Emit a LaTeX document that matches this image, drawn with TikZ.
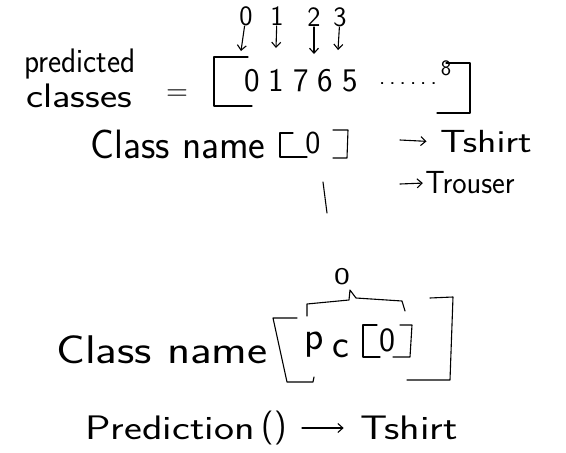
\documentclass[tikz,border=0pt]{standalone}
\usetikzlibrary{arrows.meta}
\begin{document}
\begin{tikzpicture}[x=1pt,y=-1pt, line width=1.1pt, line cap=round, line join=round,
  hw/.style={font=\sffamily\fontsize{#1}{#1}\selectfont, inner sep=0pt, anchor=center},
  arr/.style={-{Straight Barb[length=5pt,width=9pt]}}]
\useasboundingbox (0,0) rectangle (566,453);

% ---- top: indices pointing into the array
\node[hw=28] (i0) at (246,16) {0};
\node[hw=28] (i1) at (277,16) {1};
\node[hw=28] (i2) at (314,17) {2};
\node[hw=28] (i3) at (340,17) {3};
\coordinate (t0) at (241,51);
\coordinate (t1) at (276,48);
\coordinate (t2) at (314,54);
\coordinate (t3) at (338,50);
\draw[arr] (i0) -- (t0);
\draw[arr] (i1) -- (t1);
\draw[arr] (i2) -- (t2);
\draw[arr] (i3) -- (t3);

\node[hw=34, xscale=0.92] (pred) at (80,64) {predicted};
\node[hw=34, xscale=1.2] (cls) at (79,96) {classes};
\node[hw=30] (eq) at (177,95) {=};

\draw (248,57) -- (214,57) -- (214,106) -- (252,106);
\draw (446,63) -- (470,63) -- (470,113) -- (437,113);
\node[hw=33] (vals) at (301,81) {0\hspace{9pt}1\hspace{9pt}7\hspace{9pt}6\hspace{9pt}5};
\node[hw=24] (dots) at (408,84) {.\hspace{4pt}.\hspace{4pt}.\hspace{4pt}.\hspace{4pt}.\hspace{4pt}.};
\node[hw=22] (eight) at (446,68) {8};

% ---- middle
\node[hw=41, xscale=0.97] (cn1) at (178,144) {Class name};
\draw (293,133) -- (280,133) -- (280,157) -- (307,157);
\draw (333,130) -- (348,130) -- (347,158) -- (333,158);
\node[hw=32] (z1) at (313,143) {0};
\coordinate (s1) at (400,140);
\node[hw=32, xscale=1.25] (ts1) at (486,142) {Tshirt};
\draw[arr, shorten >=13pt] (s1) -- (ts1.west);

\draw (323,182) -- (327,213);
\coordinate (s2) at (400,184);
\node[hw=32, xscale=0.95] (tr) at (470,183) {Trouser};
\draw[arr, shorten >=2pt] (s2) -- (tr.west);

% ---- bottom
\node[hw=24, xscale=1.4] (zt) at (342,277) {0};
\draw (307,316) -- (307,304) -- (349,300) -- (350,290) -- (356,298) -- (402,301) -- (405,311);
\node[hw=40, xscale=1.2] (cn2) at (162,350) {Class name};
\draw (297,318) -- (273,318) -- (287,382) -- (313,382) -- (314,377);
\node[hw=40] (pp) at (314,345) {p};
\node[hw=40] (cc) at (341,349) {c};
\draw (377,325) -- (363,325) -- (363,357) -- (380,357);
\draw (400,325) -- (412,325) -- (410,357) -- (393,357);
\node[hw=34] (z2) at (387,340) {0};
\draw (430,298) -- (453,297) -- (450,380) -- (407,380);

\node[hw=34, xscale=1.25] (pr) at (170,428) {Prediction};
\node[hw=34] (par) at (274,428) {()};
\node[hw=34, xscale=1.25] (ts2) at (409,428) {Tshirt};
\draw[arr, shorten <=15pt, shorten >=16pt] (par.east) -- (ts2.west);
\end{tikzpicture}
\end{document}
